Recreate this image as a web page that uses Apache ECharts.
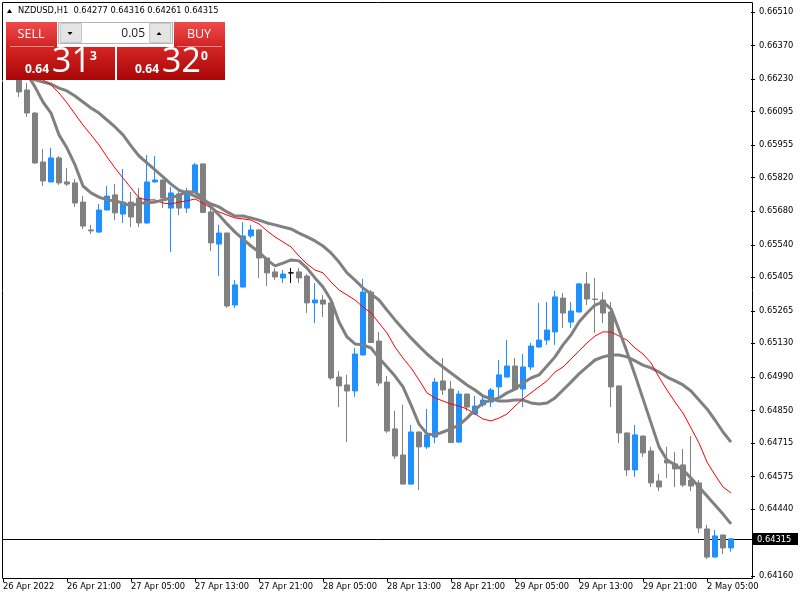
<!DOCTYPE html>
<html><head><meta charset="utf-8">
<script src="https://cdn.jsdelivr.net/npm/echarts@6/dist/echarts.min.js"></script>
<style>html,body{margin:0;padding:0;background:#fff}#c{width:800px;height:600px}</style>
</head><body><div id="c"></div><script>
const symbol = 'NZDUSD,H1';
const open = [0.66318,0.66285,0.66252,0.66185,0.66089,0.65885,0.65802,0.65902,0.65802,0.65798,
 0.65718,0.65602,0.65593,0.65685,0.65748,0.65668,0.65718,0.65735,0.65631,0.65802,
 0.65810,0.65693,0.65752,0.65693,0.65760,0.65877,0.65677,0.65543,0.65589,0.65289,
 0.65364,0.65577,0.65602,0.65485,0.65427,0.65402,0.65423,0.65427,0.65410,0.65298,
 0.65310,0.65298,0.64989,0.64956,0.64931,0.65081,0.65343,0.65139,0.64968,0.64773,
 0.64664,0.64543,0.64760,0.64698,0.64739,0.64973,0.64939,0.64718,0.64918,0.64835,
 0.64873,0.64885,0.64948,0.64989,0.65035,0.64939,0.65031,0.65114,0.65143,0.65177,
 0.65318,0.65218,0.65260,0.65377,0.65314,0.65310,0.65260,0.64952,0.64756,0.64602,
 0.64743,0.64681,0.64556,0.64643,0.64627,0.64623,0.64560,0.64548,0.64356,0.64239,
 0.64331,0.64277];
const high = [0.66352,0.66310,0.66268,0.66214,0.66093,0.65939,0.65943,0.65910,0.65860,0.65814,
 0.65743,0.65623,0.65710,0.65785,0.65793,0.65856,0.65760,0.65777,0.65914,0.65910,
 0.65812,0.65781,0.65768,0.65777,0.65881,0.65879,0.65702,0.65623,0.65591,0.65393,
 0.65635,0.65623,0.65604,0.65487,0.65443,0.65435,0.65443,0.65443,0.65418,0.65381,
 0.65331,0.65300,0.65014,0.64998,0.65110,0.65398,0.65352,0.65177,0.64993,0.64848,
 0.64873,0.64789,0.64762,0.64856,0.64985,0.65068,0.64973,0.64931,0.64920,0.64910,
 0.64914,0.64943,0.65060,0.65143,0.65068,0.65085,0.65131,0.65298,0.65302,0.65348,
 0.65339,0.65302,0.65381,0.65427,0.65402,0.65343,0.65302,0.64954,0.64758,0.64789,
 0.64745,0.64698,0.64585,0.64698,0.64677,0.64689,0.64743,0.64560,0.64373,0.64352,
 0.64333,0.64316];
const low = [0.66218,0.66231,0.66156,0.66073,0.65877,0.65785,0.65800,0.65789,0.65785,0.65698,
 0.65606,0.65585,0.65590,0.65683,0.65643,0.65631,0.65614,0.65614,0.65628,0.65798,
 0.65693,0.65510,0.65664,0.65673,0.65756,0.65673,0.65514,0.65410,0.65277,0.65277,
 0.65362,0.65568,0.65402,0.65368,0.65393,0.65381,0.65381,0.65381,0.65256,0.65214,
 0.65239,0.64977,0.64864,0.64718,0.64906,0.65079,0.65131,0.64952,0.64756,0.64648,
 0.64541,0.64541,0.64518,0.64689,0.64714,0.64914,0.64714,0.64716,0.64848,0.64833,
 0.64864,0.64864,0.64902,0.64987,0.64935,0.64864,0.65018,0.65112,0.65123,0.65123,
 0.65193,0.65193,0.65258,0.65289,0.65173,0.65214,0.64864,0.64714,0.64577,0.64573,
 0.64656,0.64531,0.64514,0.64568,0.64531,0.64531,0.64514,0.64339,0.64231,0.64237,
 0.64252,0.64261];
const close = [0.66285,0.66252,0.66177,0.66089,0.65881,0.65806,0.65902,0.65798,0.65793,0.65714,
 0.65618,0.65598,0.65685,0.65743,0.65673,0.65718,0.65656,0.65631,0.65802,0.65810,
 0.65735,0.65756,0.65693,0.65764,0.65873,0.65675,0.65548,0.65589,0.65285,0.65373,
 0.65577,0.65602,0.65485,0.65423,0.65406,0.65418,0.65423,0.65402,0.65298,0.65310,
 0.65293,0.64985,0.64952,0.64931,0.65085,0.65343,0.65133,0.64964,0.64764,0.64660,
 0.64543,0.64760,0.64698,0.64748,0.64968,0.64935,0.64716,0.64918,0.64864,0.64868,
 0.64893,0.64935,0.64998,0.65035,0.64937,0.65031,0.65118,0.65143,0.65185,0.65323,
 0.65256,0.65264,0.65377,0.65314,0.65312,0.65256,0.64948,0.64756,0.64602,0.64748,
 0.64673,0.64548,0.64531,0.64631,0.64606,0.64539,0.64535,0.64360,0.64239,0.64327,
 0.64277,0.64315];
const maFast = [0.66393,0.66352,0.66302,0.66252,0.66198,0.66135,0.66089,0.65998,0.65943,0.65873,
 0.65785,0.65756,0.65739,0.65727,0.65723,0.65714,0.65702,0.65714,0.65714,0.65718,
 0.65727,0.65735,0.65748,0.65760,0.65760,0.65735,0.65698,0.65664,0.65627,0.65593,
 0.65564,0.65535,0.65510,0.65477,0.65452,0.65464,0.65477,0.65473,0.65443,0.65402,
 0.65364,0.65310,0.65218,0.65156,0.65127,0.65123,0.65110,0.65068,0.65031,0.64993,
 0.64948,0.64873,0.64793,0.64752,0.64748,0.64760,0.64773,0.64789,0.64818,0.64852,
 0.64881,0.64893,0.64902,0.64923,0.64939,0.64964,0.64985,0.64998,0.65035,0.65073,
 0.65123,0.65164,0.65218,0.65256,0.65289,0.65302,0.65273,0.65185,0.65093,0.64998,
 0.64898,0.64798,0.64698,0.64643,0.64623,0.64602,0.64568,0.64531,0.64493,0.64456,
 0.64418,0.64377];
const maMid = [0.66331,0.66302,0.66277,0.66256,0.66239,0.66227,0.66206,0.66173,0.66131,0.66085,
 0.66039,0.65998,0.65956,0.65906,0.65860,0.65818,0.65777,0.65735,0.65727,0.65727,
 0.65714,0.65710,0.65718,0.65723,0.65731,0.65714,0.65693,0.65677,0.65664,0.65652,
 0.65648,0.65643,0.65627,0.65598,0.65573,0.65552,0.65531,0.65493,0.65460,0.65435,
 0.65423,0.65385,0.65352,0.65331,0.65310,0.65281,0.65256,0.65214,0.65173,0.65114,
 0.65068,0.65027,0.64977,0.64923,0.64902,0.64889,0.64877,0.64868,0.64856,0.64835,
 0.64814,0.64806,0.64818,0.64835,0.64868,0.64898,0.64923,0.64948,0.64973,0.65010,
 0.65031,0.65064,0.65098,0.65131,0.65160,0.65177,0.65177,0.65160,0.65143,0.65110,
 0.65085,0.65048,0.64989,0.64935,0.64885,0.64839,0.64777,0.64714,0.64635,0.64581,
 0.64531,0.64506];
const maSlow = [0.66310,0.66285,0.66260,0.66239,0.66227,0.66218,0.66210,0.66193,0.66181,0.66160,
 0.66135,0.66110,0.66089,0.66060,0.66031,0.65998,0.65952,0.65910,0.65881,0.65852,
 0.65823,0.65793,0.65768,0.65756,0.65743,0.65727,0.65710,0.65698,0.65677,0.65660,
 0.65660,0.65652,0.65643,0.65631,0.65623,0.65614,0.65606,0.65589,0.65573,0.65556,
 0.65535,0.65506,0.65468,0.65423,0.65393,0.65360,0.65335,0.65310,0.65268,0.65227,
 0.65189,0.65152,0.65118,0.65085,0.65056,0.65031,0.65006,0.64981,0.64956,0.64935,
 0.64910,0.64898,0.64889,0.64889,0.64893,0.64893,0.64881,0.64877,0.64881,0.64902,
 0.64935,0.64968,0.65002,0.65031,0.65060,0.65073,0.65081,0.65081,0.65073,0.65056,
 0.65039,0.65027,0.65010,0.64989,0.64973,0.64956,0.64931,0.64893,0.64856,0.64810,
 0.64760,0.64718];
const yTicks = [0.64160,0.64440,0.64575,0.64715,0.64850,0.64990,0.65130,0.65265,0.65405,
 0.65540,0.65680,0.65820,0.65955,0.66095,0.66230,0.66370,0.66510];
const xTickLabels = ['26 Apr 2022','26 Apr 21:00','27 Apr 05:00','27 Apr 13:00','27 Apr 21:00',
 '28 Apr 05:00','28 Apr 13:00','28 Apr 21:00','29 Apr 05:00','29 Apr 13:00','29 Apr 21:00','2 May 05:00'];
const lotSize = '0.05';
const bid = 0.64313, ask = 0.64320;

// hourly categories (weekend skipped) + two empty slots on the right
const months = ['Jan','Feb','Mar','Apr','May','Jun','Jul','Aug','Sep','Oct','Nov','Dec'];
const categories = [];
let t = Date.UTC(2022, 3, 26, 13);
while (categories.length < open.length) {
  const d = new Date(t);
  const wd = d.getUTCDay();
  if (wd !== 0 && wd !== 6) categories.push(d.getUTCDate() + ' ' + months[d.getUTCMonth()] + ' ' + String(d.getUTCHours()).padStart(2, '0') + ':00');
  t += 3600000;
}
categories.push('', '');

const candles = open.map((o, i) => [o, close[i], low[i], high[i]]);
const last = open.length - 1;
const header = symbol + '  ' + [open[last], high[last], low[last], close[last]].map(v => v.toFixed(5)).join(' ');
function splitQuote(p) { const s = p.toFixed(5); return [s.slice(0, 4), s.slice(4, 6), s.slice(6)]; }
const bq = splitQuote(bid), aq = splitQuote(ask);

const AX = '"DejaVu Sans", Tahoma, sans-serif';
const PF = '"Open Sans", "Noto Sans", sans-serif';
const showTick = (idx) => idx % 8 === 0 && idx / 8 < xTickLabels.length;
const btnRed = {type:'linear',x:0,y:0,x2:0,y2:1,colorStops:[{offset:0,color:'#f04a4a'},{offset:1,color:'#d02424'}]};
const blkRed = {type:'linear',x:0,y:0,x2:0,y2:1,colorStops:[{offset:0,color:'#d62424'},{offset:1,color:'#a80606'}]};

const chart = echarts.init(document.getElementById('c'), null, {renderer: 'canvas'});
const graphics = [
  {type: 'rect', silent: true, z: 0, shape: {x: 2.5, y: 2.5, width: 750, height: 576}, style: {fill: null, stroke: '#000', lineWidth: 1}},
  {type: 'polygon', silent: true, z: 100, shape: {points: [[7, 13], [12, 13], [9.5, 9]]}, style: {fill: '#000'}},
  {type: 'text', silent: true, z: 100, x: 18, y: 11, style: {text: header, fill: '#000', font: '8.3px ' + AX, verticalAlign: 'middle'}},
  // one-click trading panel
  {type: 'rect', silent: true, z: 100, shape: {x: 0, y: 16, width: 225, height: 64}, style: {fill: '#fff'}},
  {type: 'line', silent: true, z: 101, shape: {x1: 2.5, y1: 16, x2: 2.5, y2: 80}, style: {stroke: '#000', lineWidth: 1}},
  {type: 'rect', silent: true, z: 101, shape: {x: 6, y: 22, width: 51, height: 25}, style: {fill: btnRed}},
  {type: 'rect', silent: true, z: 101, shape: {x: 174, y: 22, width: 51, height: 25}, style: {fill: btnRed}},
  {type: 'rect', silent: true, z: 101, shape: {x: 6, y: 47, width: 109, height: 33}, style: {fill: blkRed}},
  {type: 'rect', silent: true, z: 101, shape: {x: 117, y: 47, width: 108, height: 33}, style: {fill: blkRed}},
  {type: 'line', silent: true, z: 102, shape: {x1: 10, y1: 46.5, x2: 54, y2: 46.5}, style: {stroke: '#f28a8a', lineWidth: 1}},
  {type: 'line', silent: true, z: 102, shape: {x1: 177, y1: 46.5, x2: 222, y2: 46.5}, style: {stroke: '#f28a8a', lineWidth: 1}},
  {type: 'rect', silent: true, z: 101, shape: {x: 58.5, y: 22.5, width: 114, height: 21}, style: {fill: '#f0f0f0', stroke: '#b4b4b4', lineWidth: 1}},
  {type: 'rect', silent: true, z: 102, shape: {x: 60.5, y: 23.5, width: 21, height: 19}, style: {fill: '#e4e4e4', stroke: '#c8c8c8', lineWidth: 1}},
  {type: 'rect', silent: true, z: 102, shape: {x: 149.5, y: 23.5, width: 21, height: 19}, style: {fill: '#e4e4e4', stroke: '#c8c8c8', lineWidth: 1}},
  {type: 'rect', silent: true, z: 102, shape: {x: 82, y: 23, width: 67, height: 20}, style: {fill: '#fff'}},
  {type: 'polygon', silent: true, z: 103, shape: {points: [[67.5, 32], [72.5, 32], [70, 35]]}, style: {fill: '#000'}},
  {type: 'polygon', silent: true, z: 103, shape: {points: [[156.5, 35], [161.5, 35], [159, 32]]}, style: {fill: '#000'}},
  {type: 'text', silent: true, z: 103, x: 145, y: 34, style: {text: lotSize, fill: '#222', font: '12px ' + PF, align: 'right', verticalAlign: 'middle'}},
  {type: 'text', silent: true, z: 103, x: 31, y: 34, style: {text: 'SELL', fill: '#fff', font: '12.5px ' + PF, align: 'center', verticalAlign: 'middle'}},
  {type: 'text', silent: true, z: 103, x: 199, y: 34, style: {text: 'BUY', fill: '#fff', font: '12.5px ' + PF, align: 'center', verticalAlign: 'middle'}},
  {type: 'text', silent: true, z: 103, x: 25, y: 70, style: {text: bq[0], fill: '#fff', font: 'bold 12px ' + PF, verticalAlign: 'middle'}},
  {type: 'text', silent: true, z: 103, x: 52, y: 62, style: {text: bq[1], fill: '#fff', font: '34px ' + PF, verticalAlign: 'middle'}},
  {type: 'text', silent: true, z: 103, x: 90, y: 57, style: {text: bq[2], fill: '#fff', font: 'bold 12px ' + PF, verticalAlign: 'middle'}},
  {type: 'text', silent: true, z: 103, x: 135, y: 70, style: {text: aq[0], fill: '#fff', font: 'bold 12px ' + PF, verticalAlign: 'middle'}},
  {type: 'text', silent: true, z: 103, x: 162, y: 62, style: {text: aq[1], fill: '#fff', font: '34px ' + PF, verticalAlign: 'middle'}},
  {type: 'text', silent: true, z: 103, x: 201, y: 57, style: {text: aq[2], fill: '#fff', font: 'bold 12px ' + PF, verticalAlign: 'middle'}}
];

chart.setOption({
  animation: false,
  backgroundColor: '#fff',
  textStyle: {fontFamily: AX},
  grid: {left: -1, top: 2, width: 752, height: 576, containLabel: false, outerBoundsMode: 'none'},
  xAxis: {
    type: 'category', data: categories, boundaryGap: true,
    axisLine: {show: false},
    axisTick: {show: true, alignWithLabel: true, interval: showTick, length: 4, lineStyle: {color: '#000'}},
    axisLabel: {interval: showTick, align: 'left', margin: 5, color: '#000', fontSize: 8.3, fontFamily: AX,
      hideOverlap: false, showMinLabel: true, showMaxLabel: true,
      formatter: (v, idx) => xTickLabels[idx / 8] || ''},
    splitLine: {show: false}
  },
  yAxis: {
    type: 'value', position: 'right', scale: true,
    min: 0.6656 - 578 / 24000, max: 0.6656 - 2 / 24000,
    axisLine: {show: false},
    axisTick: {show: true, length: 4, lineStyle: {color: '#000'}, customValues: yTicks},
    axisLabel: {color: '#000', fontSize: 8.3, fontFamily: AX, margin: 8, customValues: yTicks,
      formatter: v => Number(v).toFixed(5)},
    splitLine: {show: false}
  },
  series: [
    {type: 'candlestick', data: candles, barWidth: 5, z: 2,
     itemStyle: {color: '#1E90FF', color0: '#808080', borderColor: '#1E90FF', borderColor0: '#808080', borderColorDoji: '#000000', borderWidth: 1}},
    {type: 'line', data: maSlow, symbol: 'none', z: 3, lineStyle: {color: '#808080', width: 3}},
    {type: 'line', data: maMid, symbol: 'none', z: 4, lineStyle: {color: '#ff0000', width: 1}},
    {type: 'line', data: maFast, symbol: 'none', z: 5, lineStyle: {color: '#808080', width: 3}}
  ],
  graphic: graphics
});

// current price line + tag, positioned through the y axis scale
const py = Math.round(chart.convertToPixel({yAxisIndex: 0}, close[last])) + 0.5;
graphics.push(
  {type: 'line', silent: true, z: 1, shape: {x1: 2, y1: py, x2: 753, y2: py}, style: {stroke: '#000', lineWidth: 1}},
  {type: 'rect', silent: true, z: 50, shape: {x: 753, y: py - 6.5, width: 45, height: 12}, style: {fill: '#000'}},
  {type: 'text', silent: true, z: 51, x: 757, y: py, style: {text: close[last].toFixed(5), fill: '#fff', font: '8.3px ' + AX, verticalAlign: 'middle'}}
);
chart.setOption({graphic: graphics});
</script></body></html>
